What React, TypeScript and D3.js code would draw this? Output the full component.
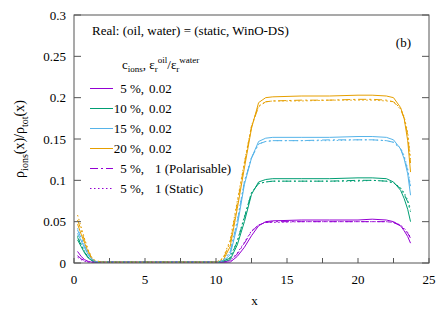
import { useEffect, useRef } from "react";
import * as d3 from "d3";

// sampled positions along x
const xs = [0.25, 0.5, 0.75, 1.0, 1.25, 1.5, 2, 4, 6, 8, 10, 10.5, 11, 11.5, 12, 12.5, 13, 13.5, 14, 16, 18, 20, 21, 22, 22.5, 23, 23.25, 23.5, 23.7];

// c_ions = 5 %
const c05Solid = [0.014, 0.008, 0.004, 0.002, 0.001, 0.001, 0.001, 0.001, 0.001, 0.001, 0.001, 0.001, 0.001, 0.008, 0.019, 0.033, 0.045, 0.050, 0.051, 0.052, 0.052, 0.052, 0.053, 0.052, 0.050, 0.045, 0.039, 0.032, 0.024];
const c05Pol = [0.009, 0.005, 0.003, 0.001, 0.001, 0.001, 0.001, 0.001, 0.001, 0.001, 0.001, 0.001, 0.002, 0.011, 0.024, 0.038, 0.046, 0.049, 0.050, 0.050, 0.050, 0.050, 0.050, 0.050, 0.049, 0.045, 0.041, 0.036, 0.030];
const c05Static = [0.007, 0.004, 0.002, 0.001, 0.001, 0.001, 0.001, 0.001, 0.001, 0.001, 0.001, 0.001, 0.003, 0.012, 0.025, 0.039, 0.046, 0.049, 0.049, 0.050, 0.050, 0.050, 0.050, 0.050, 0.049, 0.046, 0.042, 0.037, 0.031];

// c_ions = 10 %
const c10Solid = [0.028, 0.020, 0.012, 0.006, 0.003, 0.001, 0.001, 0.001, 0.001, 0.001, 0.001, 0.001, 0.004, 0.022, 0.050, 0.083, 0.098, 0.101, 0.102, 0.102, 0.102, 0.103, 0.103, 0.102, 0.098, 0.088, 0.078, 0.065, 0.050];
const c10Pol = [0.031, 0.022, 0.013, 0.007, 0.003, 0.001, 0.001, 0.001, 0.001, 0.001, 0.001, 0.002, 0.006, 0.026, 0.055, 0.085, 0.096, 0.098, 0.099, 0.099, 0.099, 0.100, 0.100, 0.099, 0.097, 0.090, 0.083, 0.074, 0.062];
const c10Static = [0.033, 0.023, 0.014, 0.007, 0.003, 0.001, 0.001, 0.001, 0.001, 0.001, 0.001, 0.002, 0.007, 0.027, 0.056, 0.085, 0.096, 0.098, 0.099, 0.099, 0.099, 0.099, 0.100, 0.099, 0.097, 0.091, 0.085, 0.076, 0.065];

// c_ions = 15 %
const c15Solid = [0.036, 0.027, 0.018, 0.010, 0.004, 0.002, 0.001, 0.001, 0.001, 0.001, 0.001, 0.002, 0.010, 0.045, 0.095, 0.127, 0.147, 0.151, 0.152, 0.152, 0.152, 0.153, 0.153, 0.152, 0.149, 0.138, 0.126, 0.108, 0.082];
const c15Pol = [0.040, 0.030, 0.020, 0.011, 0.005, 0.002, 0.001, 0.001, 0.001, 0.001, 0.001, 0.003, 0.013, 0.050, 0.098, 0.127, 0.144, 0.147, 0.148, 0.148, 0.149, 0.149, 0.149, 0.148, 0.146, 0.138, 0.128, 0.112, 0.090];
const c15Static = [0.042, 0.031, 0.021, 0.012, 0.005, 0.002, 0.001, 0.001, 0.001, 0.001, 0.001, 0.003, 0.014, 0.052, 0.099, 0.128, 0.144, 0.147, 0.148, 0.148, 0.148, 0.149, 0.149, 0.148, 0.146, 0.139, 0.130, 0.114, 0.093];

// c_ions = 20 %
const c20Solid = [0.047, 0.035, 0.024, 0.013, 0.005, 0.002, 0.001, 0.001, 0.001, 0.001, 0.001, 0.003, 0.020, 0.066, 0.115, 0.163, 0.194, 0.200, 0.201, 0.202, 0.202, 0.203, 0.203, 0.202, 0.200, 0.188, 0.175, 0.148, 0.110];
const c20Pol = [0.052, 0.040, 0.027, 0.015, 0.006, 0.002, 0.001, 0.001, 0.001, 0.001, 0.001, 0.005, 0.025, 0.072, 0.120, 0.165, 0.189, 0.195, 0.196, 0.197, 0.197, 0.198, 0.198, 0.197, 0.195, 0.186, 0.175, 0.155, 0.121];
const c20Static = [0.058, 0.044, 0.029, 0.016, 0.007, 0.003, 0.001, 0.001, 0.001, 0.001, 0.001, 0.006, 0.028, 0.075, 0.122, 0.166, 0.190, 0.195, 0.196, 0.196, 0.197, 0.197, 0.197, 0.196, 0.195, 0.187, 0.177, 0.158, 0.126];

const colors = ["#9400d3", "#009e73", "#56b4e9", "#e69f00"];
const xTicks = [0, 5, 10, 15, 20, 25];
const xMinorTicks = [2.5, 7.5, 12.5, 17.5, 22.5];
const yTicks = [0, 0.05, 0.1, 0.15, 0.2, 0.25, 0.3];

const legendLeft = ["5 %,", "10 %,", "15 %,", "20 %,", "5 %,", "5 %,"];
const legendRight = ["0.02", "0.02", "0.02", "0.02", "1 (Polarisable)", "1 (Static)"];

const DASHDOT = "8,3,2,3";
const DOTTED = "1.5,2.5";

export default function App() {
  const svgRef = useRef<SVGSVGElement>(null);

  useEffect(() => {
    if (!svgRef.current) return;
    const svg = d3.select(svgRef.current);
    svg.selectAll("*").remove();

    const left = 74;
    const right = 429;
    const top = 15;
    const bottom = 263;

    const x = d3.scaleLinear().domain([0, 25]).range([left, right]);
    const y = d3.scaleLinear().domain([0, 0.3]).range([bottom, top]);

    const solids = [c05Solid, c10Solid, c15Solid, c20Solid];
    const pols = [c05Pol, c10Pol, c15Pol, c20Pol];
    const statics = [c05Static, c10Static, c15Static, c20Static];

    const line = d3
      .line<number>()
      .x((_, i) => x(xs[i]))
      .y((d) => y(d));

    const plot = svg.append("g");
    const drawSet = (sets: number[][], dash: string | null) => {
      sets.forEach((vals, k) => {
        plot
          .append("path")
          .attr("d", line(vals))
          .attr("fill", "none")
          .attr("stroke", colors[k])
          .attr("stroke-width", 1)
          .attr("stroke-dasharray", dash);
      });
    };
    drawSet(solids, null);
    drawSet(pols, DASHDOT);
    drawSet(statics, DOTTED);

    // frame
    svg
      .append("rect")
      .attr("x", left)
      .attr("y", top)
      .attr("width", right - left)
      .attr("height", bottom - top)
      .attr("fill", "none")
      .attr("stroke", "#555")
      .attr("stroke-width", 1);

    const tickLen = 5;
    // x ticks (bottom only)
    [...xTicks, ...xMinorTicks].forEach((t) => {
      svg
        .append("line")
        .attr("x1", x(t))
        .attr("x2", x(t))
        .attr("y1", bottom)
        .attr("y2", bottom - tickLen)
        .attr("stroke", "#555");
    });
    xTicks.forEach((t) => {
      svg
        .append("text")
        .attr("x", x(t))
        .attr("y", bottom + 21)
        .attr("text-anchor", "middle")
        .attr("font-size", "13px")
        .text(String(t));
    });

    // y ticks, left and mirrored on the right
    yTicks.forEach((t) => {
      svg
        .append("line")
        .attr("x1", left)
        .attr("x2", left + tickLen + 2)
        .attr("y1", y(t))
        .attr("y2", y(t))
        .attr("stroke", "#555");
      svg
        .append("line")
        .attr("x1", right)
        .attr("x2", right - tickLen - 2)
        .attr("y1", y(t))
        .attr("y2", y(t))
        .attr("stroke", "#555");
      svg
        .append("text")
        .attr("x", left - 8)
        .attr("y", y(t) + 4.5)
        .attr("text-anchor", "end")
        .attr("font-size", "13px")
        .text(String(t));
    });

    // axis labels
    svg
      .append("text")
      .attr("x", (left + right) / 2 + 3)
      .attr("y", 305)
      .attr("text-anchor", "middle")
      .attr("font-size", "13px")
      .text("x");

    const yl = svg
      .append("text")
      .attr("transform", `translate(24, ${(top + bottom) / 2}) rotate(-90)`)
      .attr("text-anchor", "middle")
      .attr("font-size", "14px");
    yl.append("tspan").text("ρ");
    yl.append("tspan").attr("dy", 4).attr("font-size", "10px").text("ions");
    yl.append("tspan").attr("dy", -4).text("(x)/ρ");
    yl.append("tspan").attr("dy", 4).attr("font-size", "10px").text("tot");
    yl.append("tspan").attr("dy", -4).text("(x)");

    // annotations
    svg
      .append("text")
      .attr("x", 92)
      .attr("y", 35)
      .attr("font-size", "13px")
      .text("Real: (oil, water) = (static, WinO-DS)");
    svg
      .append("text")
      .attr("x", 411)
      .attr("y", 47)
      .attr("text-anchor", "end")
      .attr("font-size", "13px")
      .text("(b)");

    // legend header
    const hd = svg
      .append("text")
      .attr("x", 122)
      .attr("y", 69)
      .attr("font-size", "13px");
    hd.append("tspan").text("c");
    hd.append("tspan").attr("dy", 3).attr("font-size", "9px").text("ions");
    hd.append("tspan").attr("dy", -3).text(",  ε");
    hd.append("tspan").attr("dy", 3).attr("font-size", "9px").text("r");
    hd.append("tspan").attr("dy", -9).attr("font-size", "9px").text("oil");
    hd.append("tspan").attr("dy", 6).text("/ε");
    hd.append("tspan").attr("dy", 3).attr("font-size", "9px").text("r");
    hd.append("tspan").attr("dy", -9).attr("font-size", "9px").text("water");

    const legendColors = [colors[0], colors[1], colors[2], colors[3], colors[0], colors[0]];
    const legendDash = [null, null, null, null, DASHDOT, DOTTED];
    legendLeft.forEach((lab, i) => {
      const cy = 88.5 + i * 20;
      svg
        .append("line")
        .attr("x1", 90)
        .attr("x2", 113)
        .attr("y1", cy)
        .attr("y2", cy)
        .attr("stroke", legendColors[i])
        .attr("stroke-width", 1)
        .attr("stroke-dasharray", legendDash[i]);
      svg
        .append("text")
        .attr("x", 144)
        .attr("y", cy + 4.5)
        .attr("text-anchor", "end")
        .attr("font-size", "13px")
        .text(lab);
      svg
        .append("text")
        .attr("x", i < 4 ? 149 : 155)
        .attr("y", cy + 4.5)
        .attr("font-size", "13px")
        .text(legendRight[i]);
    });
  }, []);

  return (
    <div style={{ position: "absolute", left: 0, top: 0 }}>
      <svg
        ref={svgRef}
        width="443"
        height="310"
        style={{
          display: "block",
          background: "#fff",
          fontFamily: '"Liberation Serif", "Times New Roman", Times, "DejaVu Serif", serif',
        }}
      ></svg>
    </div>
  );
}
